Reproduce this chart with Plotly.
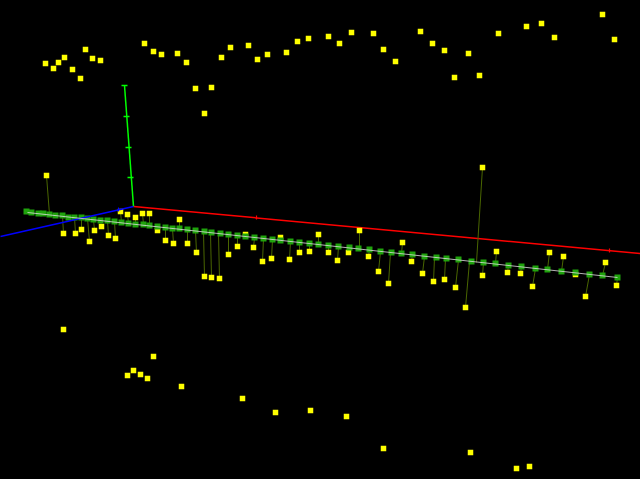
import plotly.graph_objects as go

# cloud of free points (screen-read values)
cloud_x = [45,53,58,64,72,80,85,92,100,144,153,161,177,186,195,211,204,221,230,248,257,267,286,297,308,328,339,351,373,383,395,420,432,444,454,468,479,498,526,541,554,602,614,
           63,153,127,133,140,147,181,242,275,310,346,383,470,516,529]
cloud_y = [63,68,62,57,69,78,49,58,60,43,51,54,53,62,88,87,113,57,47,45,59,54,52,41,38,36,43,32,33,49,61,31,43,50,77,53,75,33,26,23,37,14,39,
           329,356,375,370,374,378,386,398,412,410,416,448,452,468,466]

# points attached to the fitted line by stems
near_x = [46,63,75,81,89,94,101,108,115,120,127,135,142,149,157,165,173,179,187,196,204,211,219,228,237,245,253,262,271,280,289,299,309,318,328,337,348,359,368,378,388,402,411,422,433,444,455,465,482,482,496,507,520,532,549,563,575,585,605,616]
near_y = [175,233,233,229,241,230,226,235,238,211,214,217,213,213,230,240,243,219,243,252,276,277,278,254,246,234,247,261,258,237,259,252,251,234,252,260,252,230,256,271,283,242,261,273,281,279,287,307,167,275,251,272,273,286,252,256,274,296,262,285]
base_x = [49,62,74,81,87,93,100,107,114,121,128,135,143,149,157,165,172,179,187,195,203,210,218,228,237,245,254,263,272,280,290,299,309,318,328,338,349,359,369,380,390,401,412,424,434,445,458,469,476,483,495,508,521,535,547,561,575,589,602,617]
base_y = [214,215,217,217,218,219,220,220,221,222,223,224,224,225,226,227,228,228,229,230,231,232,233,234,235,236,237,238,239,240,241,242,243,244,245,246,247,248,249,251,252,253,254,256,257,258,259,261,262,262,263,265,266,268,269,271,272,274,275,277]

# markers along the line
node_x = [26,31,38,43,49,55,62,68,74,81,87,93,100,107,114,121,128,135,143,149,157,165,172,179,187,195,204,211,220,228,237,245,254,263,272,280,290,299,309,318,328,338,349,358,369,380,391,401,412,424,436,446,458,471,483,495,508,521,535,547,561,575,589,602,617]
node_y = [211,212,213,213,214,215,215,217,217,217,218,219,220,220,221,222,223,224,224,225,226,227,228,228,229,230,231,232,233,234,235,236,237,238,239,240,241,242,243,244,245,246,247,248,249,251,252,253,254,256,257,258,259,261,262,263,265,266,268,269,271,272,274,275,277]

line_x = [27,617]
line_y = [212,277]

axis_red_x = [133,640]
axis_red_y = [206,253]
axis_blue_x = [133,0]
axis_blue_y = [206,236]
axis_green_x = [124,133]
axis_green_y = [85,206]

tick_green_x = [121,127,None,123,129,None,125,131,None,127,133]
tick_green_y = [85,85,None,116,116,None,147,147,None,177,177]
tick_red_x = [256,256,None,609,609]
tick_red_y = [215,219,None,248,252]
tick_blue_x = [118,118]
tick_blue_y = [207,211]

stem_x, stem_y = [], []
for a, b, c, d in zip(near_x, near_y, base_x, base_y):
    stem_x += [a, c, None]
    stem_y += [b, d, None]


def lines(x, y, color, width):
    return go.Scatter(x=x, y=y, mode="lines", line=dict(color=color, width=width), hoverinfo="skip", showlegend=False)


def marks(x, y, color, size):
    return go.Scatter(x=x, y=y, mode="markers", marker=dict(symbol="square", color=color, size=size, line=dict(width=0)), hoverinfo="skip", showlegend=False)


fig = go.Figure([
    lines(axis_red_x, axis_red_y, "#ff0000", 1.5),
    lines(tick_red_x, tick_red_y, "#ff0000", 1.2),
    lines(axis_green_x, axis_green_y, "#00ff00", 1.5),
    lines(tick_green_x, tick_green_y, "#00ff00", 1.5),
    lines(stem_x, stem_y, "#4a6600", 1),
    marks(cloud_x, cloud_y, "#ffff00", 5.5),
    marks(near_x, near_y, "#ffff00", 5.5),
    marks(node_x, node_y, "#1fa30c", 6),
    lines(axis_blue_x, axis_blue_y, "#0000ff", 1.5),
    lines(tick_blue_x, tick_blue_y, "#0000ff", 1),
    lines(line_x, line_y, "#e0e0e0", 0.8),
])
fig.update_layout(
    width=640, height=479, margin=dict(l=0, r=0, t=0, b=0),
    paper_bgcolor="black", plot_bgcolor="black", showlegend=False,
    xaxis=dict(range=[-0.5, 639.5], visible=False, fixedrange=True),
    yaxis=dict(range=[478.5, -0.5], visible=False, fixedrange=True),
)
fig.write_html("out.html", config={"displayModeBar": False},
               post_script="document.body.style.margin='0';document.body.style.background='black';document.documentElement.style.overflow='hidden';")
